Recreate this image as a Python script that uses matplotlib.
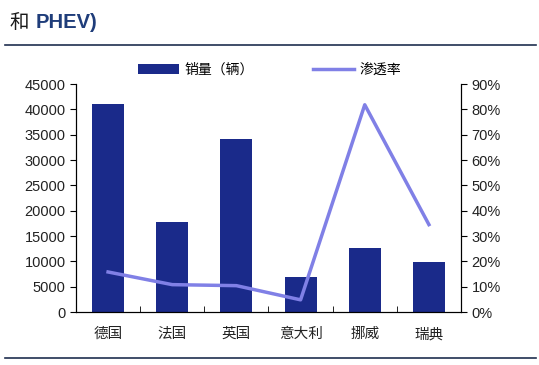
import numpy as np
import matplotlib
matplotlib.use('Agg')
import matplotlib.pyplot as plt
from matplotlib.ticker import FuncFormatter, MultipleLocator

plt.rcParams['font.family'] = ['Liberation Sans', 'Noto Sans CJK SC', 'DejaVu Sans']

countries = ['德国', '法国', '英国', '意大利', '挪威', '瑞典']
sales = [41100, 17800, 34200, 6900, 12650, 9850]        # 销量（辆）
penetration = [15.8, 10.8, 10.4, 4.8, 81.8, 34.5]        # 渗透率 %

bar_color = '#1a2a8a'
line_color = '#8080e6'

fig = plt.figure(figsize=(5.39, 3.65), dpi=100)

# title fragment and rules (cropped screenshot)
fig.text(0.018, 0.937, '和', fontsize=14, color='#1a1a1a', va='center',
         family=['Noto Sans CJK SC'])
fig.text(0.066, 0.937, 'PHEV)', fontsize=14.5, fontweight='bold', color='#1f3d7a', va='center')
fig.add_artist(plt.Line2D([0.01, 0.995], [0.877, 0.877], color='#1f2f4f', lw=1.2))
fig.add_artist(plt.Line2D([0.01, 0.995], [0.019, 0.019], color='#1f2f4f', lw=1.2))

ax = fig.add_axes([76/539, 1-312/365, (461-76)/539, (312-84)/365])
x = np.arange(len(countries))
b = ax.bar(x, sales, width=0.5, color=bar_color, label='销量（辆）')
ax.set_xlim(-0.5, len(countries)-0.5)
ax.set_ylim(0, 45000)
ax.yaxis.set_major_locator(MultipleLocator(5000))
ax.set_xticks(x)
ax.set_xticklabels(countries, family=['Noto Sans CJK SC'], fontsize=10.5, color='#222222')
ax.set_xticks(np.arange(0.5, len(countries)-0.5, 1), minor=True)
ax.tick_params(axis='x', which='major', length=0, pad=11)
ax.tick_params(axis='x', which='minor', direction='in', length=4)
ax.tick_params(axis='y', direction='out', length=4, labelsize=10.5, labelcolor='#222222')
ax.spines['top'].set_visible(False)

ax2 = ax.twinx()
l, = ax2.plot(x, penetration, color=line_color, lw=2.5, label='渗透率')
ax2.set_ylim(0, 90)
ax2.yaxis.set_major_locator(MultipleLocator(10))
ax2.yaxis.set_major_formatter(FuncFormatter(lambda v, p: '%d%%' % v))
ax2.tick_params(axis='y', direction='out', length=4, labelsize=10.5, labelcolor='#222222')
ax2.spines['top'].set_visible(False)

leg = fig.legend([b, l], ['销量（辆）', '渗透率'], loc='center', ncol=2, frameon=False,
                 bbox_to_anchor=(0.5, 0.808), prop={'family': 'Noto Sans CJK SC', 'size': 10},
                 handlelength=2.9, columnspacing=4.3, handletextpad=0.4)

fig.savefig('out.png', dpi=100)
